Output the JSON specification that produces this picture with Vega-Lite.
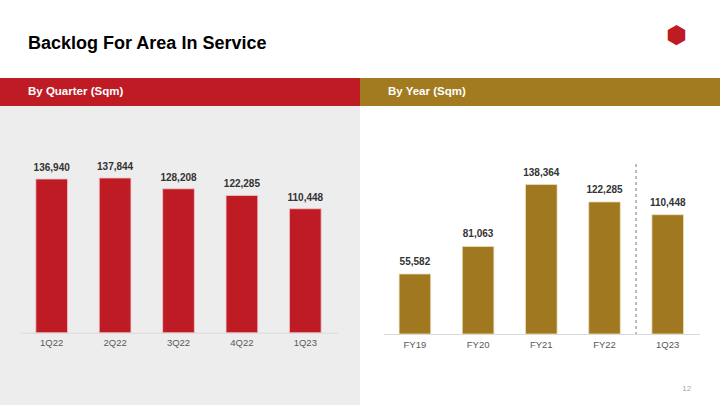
{
  "$schema": "https://vega.github.io/schema/vega-lite/v6.json",
  "background": "white",
  "padding": {"top": 24, "left": 0, "right": 0, "bottom": 0},
  "spacing": 0,
  "config": {
    "view": {"stroke": null},
    "font": "Liberation Sans",
    "title": {"font": "Liberation Sans"},
    "axis": {"labelFont": "Liberation Sans"}
  },
  "vconcat": [
    {
      "spacing": 0,
      "hconcat": [
        {
          "width": 360,
          "height": 28,
          "view": {"fill": "#BE1B25", "stroke": null},
          "title": {"text": "Backlog For Area In Service", "anchor": "start", "dx": 28, "fontSize": 18, "fontWeight": "bold", "color": "#000000", "offset": 25},
          "data": {"values": [{"h": "By Quarter (Sqm)"}]},
          "mark": {"type": "text", "align": "left", "baseline": "middle", "dx": -152, "color": "#FFFFFF", "fontSize": 11.5, "fontWeight": "bold"},
          "encoding": {"text": {"field": "h"}}
        },
        {
          "width": 360,
          "height": 28,
          "view": {"fill": "#A27A20", "stroke": null},
          "title": {"text": "⬢", "anchor": "end", "dx": -33, "fontSize": 24, "fontWeight": "normal", "color": "#BE1B25", "offset": 30, "font": "DejaVu Sans"},
          "data": {"values": [{"h": "By Year (Sqm)"}]},
          "mark": {"type": "text", "align": "left", "baseline": "middle", "dx": -152, "color": "#FFFFFF", "fontSize": 11.5, "fontWeight": "bold"},
          "encoding": {"text": {"field": "h"}}
        }
      ]
    },
    {
      "spacing": 0,
      "hconcat": [
        {
          "width": 360,
          "height": 299,
          "view": {"fill": "#EDEDED", "stroke": null},
          "data": {"values": [
            {"q": "1Q22", "v": 136940},
            {"q": "2Q22", "v": 137844},
            {"q": "3Q22", "v": 128208},
            {"q": "4Q22", "v": 122285},
            {"q": "1Q23", "v": 110448}
          ]},
          "encoding": {
            "x": {
              "field": "q", "type": "nominal", "sort": null,
              "scale": {"range": [20, 337], "paddingInner": 0.5, "paddingOuter": 0.25},
              "axis": {"title": null, "labelAngle": 0, "ticks": false, "domainColor": "#D9D9D9", "domainWidth": 1, "labelColor": "#595959", "labelFontSize": 9.5, "labelPadding": 5, "offset": -72.3, "grid": false}
            }
          },
          "layer": [
            {
              "mark": {"type": "bar", "color": "#BE1B25", "stroke": "#F0C8CA", "strokeWidth": 0.8},
              "encoding": {
                "y": {"field": "v", "type": "quantitative", "scale": {"domain": [-64400, 202000], "nice": false, "zero": false}, "axis": null},
                "y2": {"datum": 0}
              }
            },
            {
              "mark": {"type": "text", "baseline": "alphabetic", "dy": -8, "fontSize": 10, "fontWeight": "bold", "color": "#333333"},
              "encoding": {
                "y": {"field": "v", "type": "quantitative"},
                "text": {"field": "v", "type": "quantitative", "format": ","}
              }
            }
          ]
        },
        {
          "width": 360,
          "height": 299,
          "view": {"fill": "#FFFFFF", "stroke": null},
          "data": {"values": [
            {"q": "FY19", "v": 55582},
            {"q": "FY20", "v": 81063},
            {"q": "FY21", "v": 138364},
            {"q": "FY22", "v": 122285},
            {"q": "1Q23", "v": 110448}
          ]},
          "encoding": {
            "x": {
              "field": "q", "type": "nominal", "sort": null,
              "scale": {"range": [23.3, 339.3], "paddingInner": 0.5, "paddingOuter": 0.25},
              "axis": {"title": null, "labelAngle": 0, "ticks": false, "domainColor": "#D9D9D9", "domainWidth": 1, "labelColor": "#595959", "labelFontSize": 9.5, "labelPadding": 5, "offset": -71, "grid": false}
            }
          },
          "layer": [
            {
              "mark": {"type": "bar", "color": "#A07820", "stroke": "#EEDFC0", "strokeWidth": 0.8},
              "encoding": {
                "y": {"field": "v", "type": "quantitative", "scale": {"domain": [-65740, 211110], "nice": false, "zero": false}, "axis": null},
                "y2": {"datum": 0}
              }
            },
            {
              "mark": {"type": "text", "baseline": "alphabetic", "dy": -9, "fontSize": 10, "fontWeight": "bold", "color": "#333333"},
              "encoding": {
                "y": {"field": "v", "type": "quantitative"},
                "text": {"field": "v", "type": "quantitative", "format": ","}
              }
            },
            {
              "data": {"values": [{"d": 1}]},
              "mark": {"type": "rule", "strokeDash": [3, 3], "color": "#A6A6A6", "strokeWidth": 1.5, "xOffset": -15.8},
              "encoding": {
                "x": {"datum": "1Q23", "bandPosition": 0},
                "y": {"datum": 157400},
                "y2": {"datum": 0}
              }
            },
            {
              "data": {"values": [{"p": "12"}]},
              "mark": {"type": "text", "fontSize": 8, "color": "#A6A6A6", "align": "center", "baseline": "middle", "dx": 19},
              "encoding": {
                "x": {"datum": "1Q23", "bandPosition": 0.5},
                "y": {"datum": -50900},
                "text": {"field": "p"}
              }
            }
          ]
        }
      ]
    }
  ]
}
